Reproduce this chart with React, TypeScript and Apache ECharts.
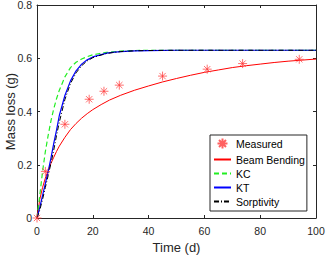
import React, { useEffect, useRef } from "react";
import * as echarts from "echarts";

const measTime = [0, 3, 10, 18.7, 24, 29.5, 45, 61, 73.7, 94];
const measMass = [0, 0.175, 0.352, 0.446, 0.476, 0.499, 0.533, 0.559, 0.58, 0.596];

const bbTime = [0, 1, 2, 3, 4, 5, 6, 7, 8, 10, 12, 14, 16, 18, 20, 23, 26, 30, 35, 40, 45, 50, 55, 60, 65, 70, 75, 80, 85, 90, 95, 100];
const bbMass = [0, 0.07, 0.115, 0.15, 0.178, 0.205, 0.228, 0.25, 0.27, 0.303, 0.332, 0.355, 0.375, 0.392, 0.407, 0.426, 0.443, 0.461, 0.48, 0.496, 0.511, 0.524, 0.536, 0.547, 0.556, 0.565, 0.572, 0.578, 0.584, 0.589, 0.593, 0.597];

const modelTime = [0, 1, 2, 3, 4, 5, 6, 7, 8, 10, 12, 14, 16, 18, 20, 22, 25, 27, 30, 35, 40, 50, 100];
const kcMass = [0, 0.085, 0.175, 0.25, 0.31, 0.365, 0.41, 0.448, 0.48, 0.53, 0.565, 0.585, 0.597, 0.606, 0.613, 0.617, 0.622, 0.624, 0.627, 0.629, 0.63, 0.63, 0.63];
const ktMass = [0, 0.04, 0.085, 0.13, 0.175, 0.225, 0.28, 0.33, 0.385, 0.46, 0.515, 0.553, 0.578, 0.594, 0.605, 0.611, 0.619, 0.622, 0.625, 0.628, 0.629, 0.63, 0.63];
const sorpMass = [0, 0.03, 0.07, 0.115, 0.16, 0.205, 0.255, 0.31, 0.36, 0.445, 0.505, 0.545, 0.572, 0.59, 0.602, 0.609, 0.618, 0.621, 0.625, 0.628, 0.629, 0.63, 0.63];

const xTicks = [0, 20, 40, 60, 80, 100];
const yTicks = [0, 0.2, 0.4, 0.6, 0.8];

const pair = (t: number[], v: number[]) => t.map((x, i) => [x, v[i]]);

const FONT = "Liberation Sans, Arial, Helvetica, sans-serif";
const AX = "#262626";

export default function App() {
  const ref = useRef<HTMLDivElement>(null);
  useEffect(() => {
    const chart = echarts.init(ref.current!, null, { renderer: "svg" });
    const axisCommon = {
      axisLine: { show: true, onZero: false, lineStyle: { color: AX, width: 1 } },
      axisTick: { show: true, inside: true, length: 3, lineStyle: { color: AX } },
      splitLine: { show: false },
    };
    const noSym = { itemStyle: { opacity: 0 } };
    chart.setOption({
      animation: false,
      backgroundColor: "#ffffff",
      textStyle: { fontFamily: FONT },
      grid: {
        left: 37,
        right: 11,
        top: 5,
        bottom: 38,
        containLabel: false,
        outerBoundsMode: "none",
      },
      xAxis: [
        {
          type: "value",
          min: xTicks[0],
          max: xTicks[xTicks.length - 1],
          interval: 20,
          position: "bottom",
          name: "Time (d)",
          nameLocation: "middle",
          nameGap: 23,
          nameMoveOverlap: false,
          nameTextStyle: { fontSize: 13, color: AX, fontFamily: FONT },
          axisLabel: { fontSize: 10.5, color: AX, margin: 7, fontFamily: FONT },
          ...axisCommon,
        },
        {
          type: "value",
          min: xTicks[0],
          max: xTicks[xTicks.length - 1],
          interval: 20,
          position: "top",
          axisLabel: { show: false },
          ...axisCommon,
        },
      ],
      yAxis: [
        {
          type: "value",
          min: yTicks[0],
          max: yTicks[yTicks.length - 1],
          interval: 0.2,
          position: "left",
          name: "Mass loss (g)",
          nameLocation: "middle",
          nameGap: 20,
          nameMoveOverlap: false,
          nameTextStyle: { fontSize: 13, color: AX, fontFamily: FONT },
          axisLabel: { fontSize: 10.5, color: AX, margin: 5, fontFamily: FONT },
          ...axisCommon,
        },
        {
          type: "value",
          min: yTicks[0],
          max: yTicks[yTicks.length - 1],
          interval: 0.2,
          position: "right",
          axisLabel: { show: false },
          ...axisCommon,
        },
      ],
      legend: {
        orient: "vertical",
        left: 210,
        top: 135,
        padding: [1, 2, 4, 3],
        itemWidth: 17,
        itemHeight: 10,
        itemGap: 3,
        backgroundColor: "#ffffff",
        borderColor: AX,
        borderWidth: 1,
        borderRadius: 0,
        textStyle: { fontSize: 10.5, color: "#000", fontFamily: FONT },
        data: [
          { name: "Measured" },
          { name: "Beam Bending", ...noSym },
          { name: "KC", ...noSym },
          { name: "KT", ...noSym },
          { name: "Sorptivity", ...noSym },
        ],
      },
      series: [
        {
          name: "Beam Bending",
          type: "line",
          data: pair(bbTime, bbMass),
          smooth: false,
          symbol: "none",
          lineStyle: { color: "#ff0000", width: 1 },
          itemStyle: { color: "#ff0000" },
          z: 2,
        },
        {
          name: "KC",
          type: "line",
          data: pair(modelTime, kcMass),
          smooth: false,
          symbol: "none",
          lineStyle: { color: "#22ee22", width: 1.2, type: [5, 3] },
          itemStyle: { color: "#22ee22" },
          z: 3,
        },
        {
          name: "KT",
          type: "line",
          data: pair(modelTime, ktMass),
          smooth: false,
          symbol: "none",
          lineStyle: { color: "#0000ff", width: 1.2 },
          itemStyle: { color: "#0000ff" },
          z: 4,
        },
        {
          name: "Sorptivity",
          type: "line",
          data: pair(modelTime, sorpMass),
          smooth: false,
          symbol: "none",
          lineStyle: { color: "#000000", width: 1, type: [5, 2, 1, 2] },
          itemStyle: { color: "#000000" },
          z: 5,
        },
        {
          name: "Measured",
          type: "scatter",
          data: pair(measTime, measMass),
          symbol: "path://M0,-5L0,5M-5,0L5,0M-3.5,-3.5L3.5,3.5M-3.5,3.5L3.5,-3.5",
          symbolSize: 9,
          itemStyle: { color: "none", borderColor: "#ff3838", borderWidth: 0.9 },
          z: 6,
        },
      ],
    });
    return () => chart.dispose();
  }, []);
  return (
    <div
      ref={ref}
      style={{ position: "fixed", left: 0, top: 0, width: 327, height: 256 }}
    />
  );
}
